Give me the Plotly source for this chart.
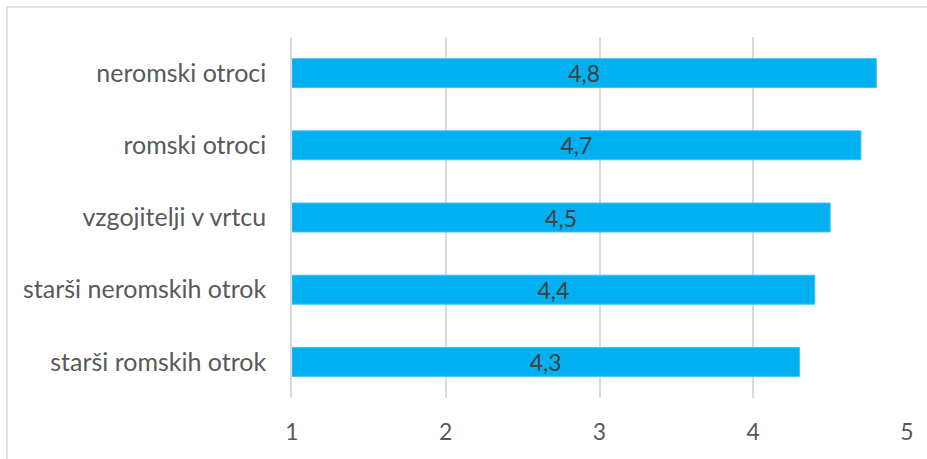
import plotly.graph_objects as go

categories = ["starši romskih otrok", "starši neromskih otrok", "vzgojitelji v vrtcu",
              "romski otroci", "neromski otroci"]
values = [4.3, 4.4, 4.5, 4.7, 4.8]
value_labels = [f"{v:.1f}".replace(".", ",") for v in values]
tick_vals = [1, 2, 3, 4, 5]

W, H = 927, 459
L, R, T, B = 292, 20, 37, 61
pw, ph = W - L - R, H - T - B

fig = go.Figure(go.Bar(
    y=categories, x=[v - 1 for v in values], base=1, orientation="h",
    marker=dict(color="#00B0F0", line=dict(color="#33C0F3", width=1)),
    width=0.4,
    text=value_labels, textposition="inside", insidetextanchor="middle",
    constraintext="none",
    textfont=dict(family="Lato", size=23, color="#404040"),
    hoverinfo="skip",
))

# chart frame drawn around the whole figure area
fig.add_shape(type="rect", xref="paper", yref="paper",
              x0=(7 - L) / pw, x1=(W + 2 - L) / pw,
              y0=(T + ph - (H + 2)) / ph, y1=(T + ph - 7) / ph,
              line=dict(color="#D9D9D9", width=1.5), fillcolor="rgba(0,0,0,0)", layer="below")

fig.update_layout(
    width=W, height=H, margin=dict(l=L, r=R, t=T, b=B),
    paper_bgcolor="white", plot_bgcolor="white", showlegend=False,
    font=dict(family="Lato", color="#595959"),
    xaxis=dict(range=[1, 5], tickvals=tick_vals, showgrid=True, gridcolor="#D9D9D9",
               gridwidth=1.5, zeroline=False, showline=False, ticks="",
               tickfont=dict(size=23, color="#595959"), ticklabelstandoff=18),
    yaxis=dict(showgrid=False, zeroline=False, showline=True, linecolor="#D9D9D9",
               linewidth=1.5, ticks="",
               tickfont=dict(size=25, color="#595959"), ticklabelstandoff=19,
               range=[-0.5, 4.5]),
)

fig.write_html("out.html")
